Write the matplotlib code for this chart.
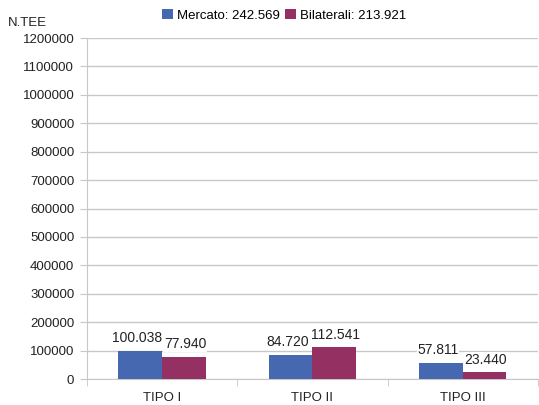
import matplotlib.pyplot as plt
import numpy as np

plt.rcParams['font.family'] = ['Liberation Sans', 'DejaVu Sans']

categories = ["TIPO I", "TIPO II", "TIPO III"]
mercato = [100038, 84720, 57811]
bilaterali = [77940, 112541, 23440]
mercato_labels = ["100.038", "84.720", "57.811"]
bilaterali_labels = ["77.940", "112.541", "23.440"]
legend_labels = ["Mercato: 242.569", "Bilaterali: 213.921"]

blue = "#4668b1"
purple = "#953162"
grid_col = "#c8c8c8"

fig = plt.figure(figsize=(5.39, 4.05), dpi=100)
ax = fig.add_axes([0.161, 0.064, 0.837, 0.842])

x = np.arange(len(categories))
w = 0.29
b1 = ax.bar(x - w / 2, mercato, w, color=blue, label=legend_labels[0], zorder=3)
b2 = ax.bar(x + w / 2, bilaterali, w, color=purple, label=legend_labels[1], zorder=3)

box = dict(facecolor="white", edgecolor="none", pad=0.5)
for bars, labs, dx in [(b1, mercato_labels, -2), (b2, bilaterali_labels, 1)]:
    for rect, lab in zip(bars, labs):
        ax.annotate(lab, (rect.get_x() + rect.get_width() / 2, rect.get_height()),
                    xytext=(dx, 4), textcoords="offset points", ha="center", va="bottom",
                    fontsize=10, color="#222222", bbox=box, zorder=4)

ax.set_xlim(-0.5, 2.5)
ax.set_ylim(0, 1200000)
ax.set_yticks(np.arange(0, 1200001, 100000))
ax.set_yticklabels([str(v) for v in range(0, 1200001, 100000)])
ax.set_xticks(x)
ax.set_xticklabels(categories)
ax.set_xticks([-0.5, 0.5, 1.5, 2.5], minor=True)
ax.tick_params(axis="x", which="major", length=0, pad=9, labelsize=9.5, colors="#222222")
ax.tick_params(axis="x", which="minor", length=5, color=grid_col)
ax.tick_params(axis="y", length=5, color=grid_col, labelsize=9.5, labelcolor="#222222", pad=4)

ax.grid(axis="y", color=grid_col, linewidth=1, zorder=0)
for s in ["top", "right"]:
    ax.spines[s].set_visible(False)
for s in ["left", "bottom"]:
    ax.spines[s].set_color(grid_col)

fig.text(0.015, 0.943, "N.TEE", fontsize=9.5, color="#222222", ha="left", va="center")
fig.legend(loc="center", bbox_to_anchor=(0.527, 0.962), ncol=2, frameon=False,
           fontsize=9.5, handlelength=0.8, handleheight=0.8, handletextpad=0.3,
           columnspacing=0.4, borderaxespad=0)

fig.savefig("out.png", dpi=100)
